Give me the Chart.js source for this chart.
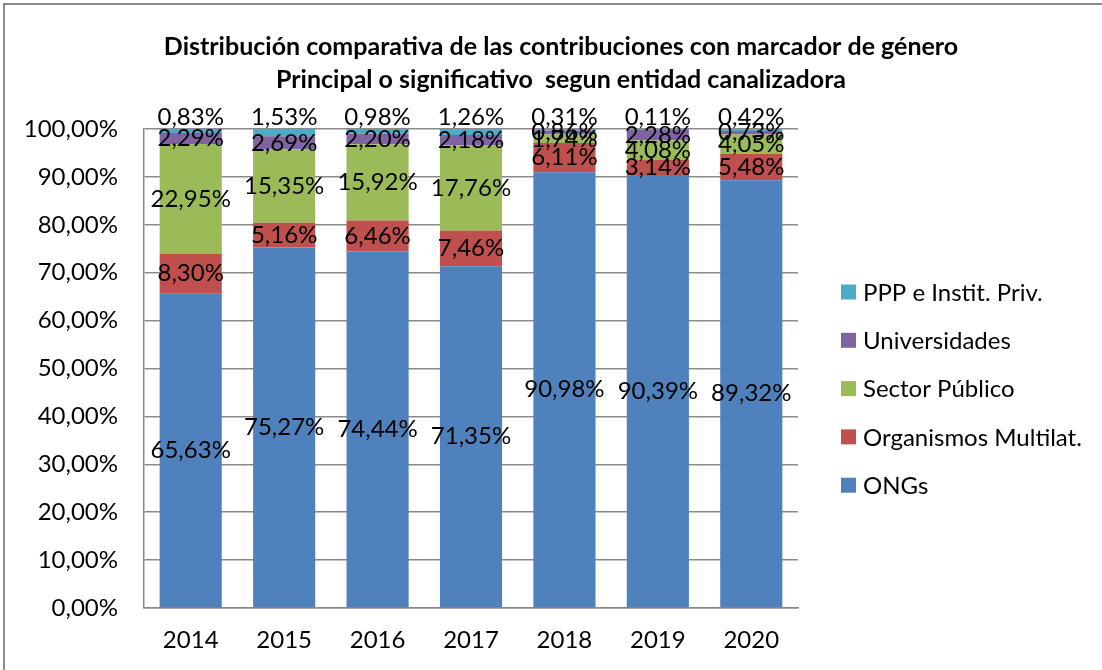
<!DOCTYPE html>
<html>
<head>
<meta charset="utf-8">
<title>Distribución comparativa</title>
<script src="https://cdn.jsdelivr.net/npm/chart.js@4"></script>
<style>
  html, body { margin: 0; padding: 0; background: #fff; }
  #wrap { position: relative; width: 1102px; height: 670px; }
</style>
</head>
<body>
<div id="wrap"><canvas id="myChart" width="1102" height="670"></canvas></div>
<script>
// categories and series (percent of total per year)
const years = ["2014", "2015", "2016", "2017", "2018", "2019", "2020"];
const ongs = [65.63, 75.27, 74.44, 71.35, 90.98, 90.39, 89.32];
const multilat = [8.30, 5.16, 6.46, 7.46, 6.11, 3.14, 5.48];
const sectorPublico = [22.95, 15.35, 15.92, 17.76, 1.74, 4.08, 4.05];
const universidades = [2.29, 2.69, 2.20, 2.18, 0.86, 2.28, 0.73];
const pppPriv = [0.83, 1.53, 0.98, 1.26, 0.31, 0.11, 0.42];
const yTicks = [0, 10, 20, 30, 40, 50, 60, 70, 80, 90, 100];

const FONT = "Lato";
const pct = (v) => v.toFixed(2).replace(".", ",") + "%";

// labels in the middle of each segment, the top series sits above the bar
const labelPlugin = {
  id: "segLabels",
  afterDatasetsDraw(chart) {
    const ctx = chart.ctx;
    const last = chart.data.datasets.length - 1;
    ctx.save();
    ctx.font = "24px " + FONT;
    ctx.fillStyle = "#000";
    ctx.textAlign = "center";
    ctx.textBaseline = "middle";
    chart.data.datasets.forEach((ds, i) => {
      chart.getDatasetMeta(i).data.forEach((bar, j) => {
        const y = i === last ? bar.y - 12 : (bar.y + bar.base) / 2;
        ctx.fillText(pct(ds.data[j]), bar.x, y);
      });
    });
    ctx.restore();
  },
};

// legend drawn next to the plot, top item = last series
const legendPlugin = {
  id: "sideLegend",
  afterDraw(chart) {
    const ctx = chart.ctx;
    const x0 = chart.chartArea.right + 43;
    const y0 = 292;
    const step = 48.3;
    ctx.save();
    ctx.font = "24px " + FONT;
    ctx.textBaseline = "middle";
    ctx.textAlign = "left";
    const sets = chart.data.datasets.slice().reverse();
    sets.forEach((ds, k) => {
      const cy = y0 + k * step;
      ctx.fillStyle = ds.backgroundColor;
      ctx.fillRect(x0, cy - 7.5, 15, 15);
      ctx.fillStyle = "#000";
      ctx.fillText(ds.label, x0 + 22, cy + 1);
    });
    ctx.restore();
  },
};

// white background and the outer frame
const framePlugin = {
  id: "frame",
  beforeDraw(chart) {
    const ctx = chart.ctx;
    ctx.save();
    ctx.fillStyle = "#fff";
    ctx.fillRect(0, 0, chart.width, chart.height);
    ctx.strokeStyle = "#8a8a8a";
    ctx.lineWidth = 2;
    ctx.beginPath();
    ctx.moveTo(4, chart.height + 5);
    ctx.lineTo(4, 4);
    ctx.lineTo(chart.width + 5, 4);
    ctx.stroke();
    ctx.restore();
  },
};

const ctx = document.getElementById("myChart").getContext("2d");
new Chart(ctx, {
  type: "bar",
  data: {
    labels: years,
    datasets: [
      { label: "ONGs", data: ongs, backgroundColor: "#4F81BD" },
      { label: "Organismos Multilat.", data: multilat, backgroundColor: "#C0504D" },
      { label: "Sector Público", data: sectorPublico, backgroundColor: "#9BBB59" },
      { label: "Universidades", data: universidades, backgroundColor: "#8064A2" },
      { label: "PPP e Instit. Priv.", data: pppPriv, backgroundColor: "#4BACC6" },
    ],
  },
  options: {
    responsive: false,
    animation: false,
    layout: { padding: { left: 20, right: 0, top: 0, bottom: 0 } },
    datasets: {
      bar: { barPercentage: 0.665, categoryPercentage: 1.0, borderWidth: 0 },
    },
    plugins: {
      legend: { display: false },
      tooltip: { enabled: false },
      title: {
        display: true,
        text: [
          "Distribución comparativa de las contribuciones con marcador de género",
          "Principal o significativo  segun entidad canalizadora",
        ],
        color: "#000",
        font: { family: FONT, size: 25, weight: "bold", lineHeight: 1.32 },
        padding: { top: 30.5, bottom: 32.5 },
      },
    },
    scales: {
      x: {
        stacked: true,
        grid: { display: false, drawTicks: false },
        border: { display: true, color: "#8a8a8a", width: 1.5 },
        ticks: { color: "#000", font: { family: FONT, size: 24 }, padding: 17.5, maxRotation: 0 },
        afterFit: (s) => { s.height = 62; },
      },
      y: {
        stacked: true,
        min: 0,
        max: 100,
        afterBuildTicks: (s) => { s.ticks = yTicks.map((v) => ({ value: v })); },
        grid: { color: "#8a8a8a", lineWidth: 1.5, drawTicks: false },
        border: { display: true, color: "#8a8a8a", width: 1.5 },
        ticks: { color: "#000", font: { family: FONT, size: 24 }, padding: 26, callback: (v) => pct(v) },
        afterFit: (s) => { s.width = 124; },
      },
      yR: {
        position: "right",
        display: true,
        grid: { display: false, drawTicks: false },
        border: { display: false },
        ticks: { display: false },
        afterFit: (s) => { s.width = 304; },
      },
    },
  },
  plugins: [framePlugin, labelPlugin, legendPlugin],
});
</script>
</body>
</html>
